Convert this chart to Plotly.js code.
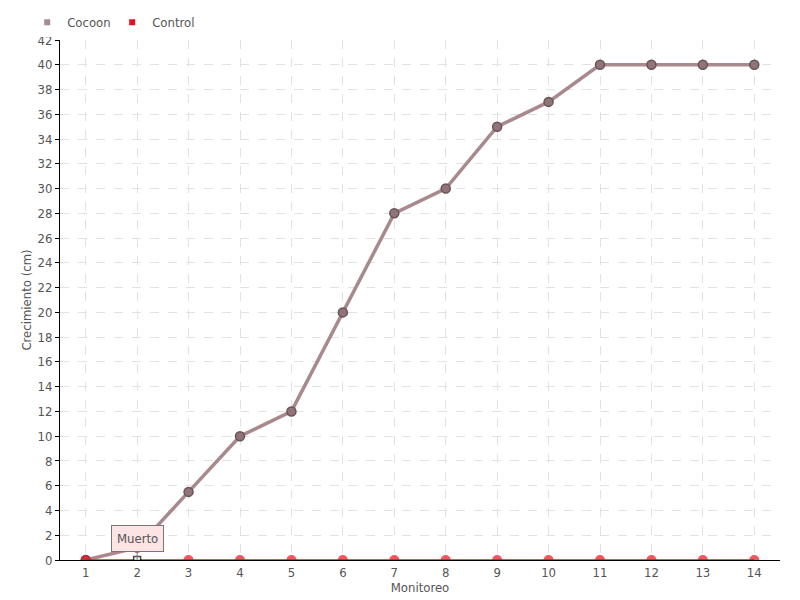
<!DOCTYPE html>
<html><head><meta charset="utf-8">
<script src="https://cdn.plot.ly/plotly-3.0.1.min.js"></script>
<style>body{margin:0;background:#fff}#c{width:800px;height:600px}</style>
</head><body><div id="c"></div>
<script>
const monitoreo = ['1','2','3','4','5','6','7','8','9','10','11','12','13','14'];
const cocoon = [0, 1, 5.5, 10, 12, 20, 28, 30, 35, 37, 40, 40, 40, 40];
const control = [0, 0, 0, 0, 0, 0, 0, 0, 0, 0, 0, 0, 0, 0];
const yTicks = [0,2,4,6,8,10,12,14,16,18,20,22,24,26,28,30,32,34,36,38,40,42];
const FONT = '"DejaVu Sans Condensed", "Liberation Sans Narrow", sans-serif';
const COCOON_C = '#a88a8e', CONTROL_C = '#e8101e';

const traces = [
  {x: monitoreo, y: cocoon, name: 'Cocoon', type: 'scatter', mode: 'lines+markers', showlegend: false,
   line: {color: COCOON_C, width: 3.5},
   marker: {color: '#8f7478', size: 9, line: {color: '#6a5356', width: 1.5}}},
  {x: monitoreo, y: control, name: 'Control', type: 'scatter', mode: 'lines+markers', showlegend: false,
   line: {color: CONTROL_C, width: 1.5},
   marker: {color: control.map((v,i)=> i===1 ? '#ffffff' : CONTROL_C),
            symbol: control.map((v,i)=> i===1 ? 'square' : 'circle'),
            size: control.map((v,i)=> i===1 ? 7 : 10),
            line: {color: control.map((v,i)=> i===1 ? '#000000' : CONTROL_C), width: control.map((v,i)=> i===1 ? 1.5 : 0)}}},
  {x: [null], y: [null], name: 'Cocoon', type: 'scatter', mode: 'markers',
   marker: {color: COCOON_C, symbol: 'square', size: 6}},
  {x: [null], y: [null], name: 'Control', type: 'scatter', mode: 'markers',
   marker: {color: CONTROL_C, symbol: 'square', size: 6}}
];

const layout = {
  width: 800, height: 600,
  margin: {l: 60, r: 20, t: 40, b: 40},
  paper_bgcolor: '#fff', plot_bgcolor: '#fff',
  font: {family: FONT, color: '#555', size: 13},
  showlegend: true,
  legend: {orientation: 'h', x: 0.034, xref: 'container', y: 0.963, yref: 'container', yanchor: 'middle', xanchor: 'left',
           font: {size: 13, color: '#555'}, itemwidth: 30, tracegroupgap: 0, entrywidth: 40, entrywidthmode: 'pixels'},
  xaxis: {type: 'category', range: [-0.5, 13.5], showgrid: true, gridcolor: '#e2e2e2', griddash: 'dash',
          showline: true, linecolor: '#000', linewidth: 1, ticks: '', zeroline: false,
          tickfont: {size: 13, color: '#555'},
          title: {text: 'Monitoreo', font: {size: 13, color: '#555'}, standoff: 0}},
  yaxis: {range: [0, 42], tickvals: yTicks, showgrid: true, gridcolor: '#e2e2e2', griddash: 'dash',
          showline: true, linecolor: '#000', linewidth: 1, ticks: 'outside', ticklen: 4, tickcolor: '#000',
          zeroline: false, tickfont: {size: 13, color: '#555'},
          title: {text: 'Crecimiento (cm)', font: {size: 13, color: '#555'}, standoff: 2}},
  annotations: [{x: 1, y: 0, xref: 'x', yref: 'y', text: 'Muerto', showarrow: true,
                 arrowhead: 0, arrowwidth: 1, arrowcolor: '#777', ax: 0, ay: -22,
                 bgcolor: '#fde4e4', bordercolor: '#777', borderwidth: 1, borderpad: 5,
                 font: {size: 13, color: '#555', family: FONT}}]
};
Plotly.newPlot('c', traces, layout, {displayModeBar: false});
</script></body></html>
